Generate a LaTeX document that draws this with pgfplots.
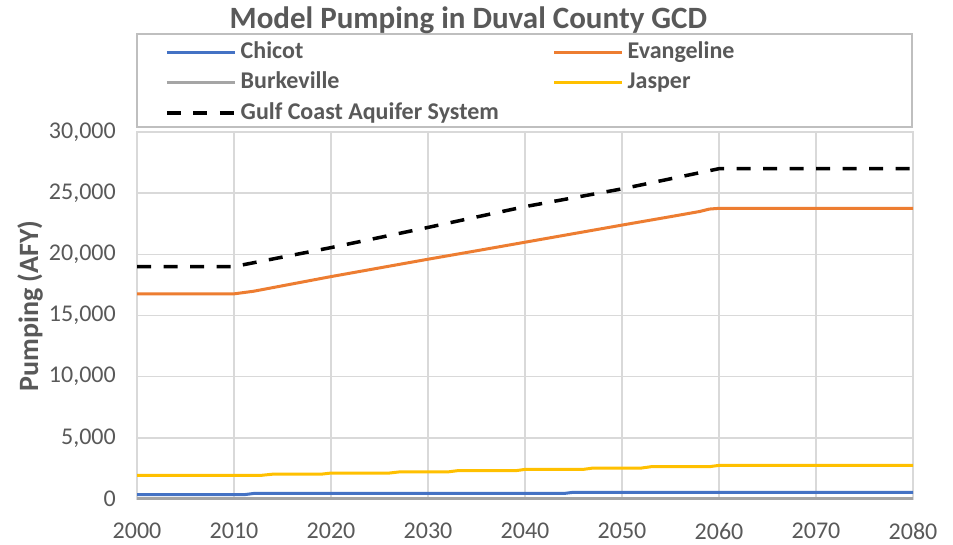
\documentclass[border=0pt]{standalone}
\usepackage{fontspec}
\setmainfont{Carlito}
\usepackage{pgfplots}
\pgfplotsset{compat=1.18}
\definecolor{cblue}{HTML}{4472C4}
\definecolor{corange}{HTML}{ED7D31}
\definecolor{cgray}{HTML}{A5A5A5}
\definecolor{cgold}{HTML}{FFC000}
\definecolor{txt}{HTML}{595959}
\definecolor{gridc}{HTML}{D9D9D9}
\definecolor{boxc}{HTML}{BFBFBF}
\begin{document}
\begin{tikzpicture}[x=1pt,y=1pt]
\useasboundingbox (0,0) rectangle (953,544);
\fill[white] (0,0) rectangle (953,544);
\draw[boxc, line width=1.5pt] (137,417) rectangle (912,510);
\begin{axis}[
  at={(137pt,45pt)}, anchor=south west,
  scale only axis, width=776pt, height=367pt,
  xmin=2000, xmax=2080, ymin=0, ymax=30000,
  xtick={2000,2010,...,2080}, ytick={0,5000,...,30000},
  scaled y ticks=false,
  grid=major, grid style={gridc, line width=1.5pt},
  axis line style={gridc, line width=1.5pt},
  major tick length=0pt,
  tick label style={font=\fontsize{24}{28}\selectfont, text=txt, /pgf/number format/assume math mode=true},
  xticklabel style={/pgf/number format/1000 sep={}, inner sep=0pt, anchor=north, yshift=-24pt},
  yticklabel style={inner sep=0pt, anchor=east, xshift=-21pt},
  title={Model Pumping in Duval County GCD},
  title style={at={(axis description cs:0.427,1.267)}, anchor=base, font=\fontsize{31}{37}\selectfont\bfseries, text=txt, inner sep=0pt},
  ylabel={Pumping (AFY)},
  ylabel style={at={(axis description cs:-0.1379,0.526)}, anchor=center, font=\fontsize{28}{33}\selectfont\bfseries, text=txt, inner sep=0pt},
  legend columns=2,
  legend cell align=left,
  legend image code/.code={\draw[#1] (0pt,0pt) -- (68pt,0pt); \path (72pt,0pt);},
  legend style={at={(axis description cs:0.0361,1.248)}, anchor=north west, draw=none, fill=none,
    inner sep=0pt, row sep=8.5pt,
    font=\fontsize{24}{28}\selectfont\bfseries, text=txt,
    nodes={inner sep=0pt, text height=17pt, text depth=5pt}},
]
\addplot[cblue, line width=3pt] coordinates {(2000,350)(2011,350)(2012,450)(2044,450)(2045,550)(2080,550)};
\addlegendentry{\makebox[312pt][l]{Chicot}}
\addplot[corange, line width=3pt] coordinates {(2000,16770)(2010,16770)(2012,16980)(2015,17430)(2020,18180)(2025,18890)(2030,19600)(2035,20290)(2040,20990)(2045,21690)(2050,22390)(2055,23080)(2058,23500)(2059,23700)(2060,23760)(2080,23760)};
\addlegendentry{Evangeline}
\addplot[cgray, line width=3pt] coordinates {(2000,50)(2080,50)};
\addlegendentry{\makebox[312pt][l]{Burkeville}}
\addplot[cgold, line width=3pt] coordinates {(2000,1925)(2012.7,1925)(2014,2030)(2019,2030)(2020,2120)(2026,2120)(2027,2210)(2032,2210)(2033,2310)(2039,2310)(2040,2420)(2046,2420)(2047,2530)(2052,2530)(2053,2640)(2059,2640)(2060,2750)(2080,2750)};
\addlegendentry{Jasper}
\addplot[black, line width=3.5pt, dash pattern=on 14pt off 12.5pt] coordinates {(2000,19000)(2010,19000)(2020,20550)(2030,22200)(2040,23900)(2050,25350)(2060,27000)(2080,27000)};
\addlegendentry{\makebox[312pt][l]{Gulf Coast Aquifer System}}
\end{axis}
\end{tikzpicture}
\end{document}
